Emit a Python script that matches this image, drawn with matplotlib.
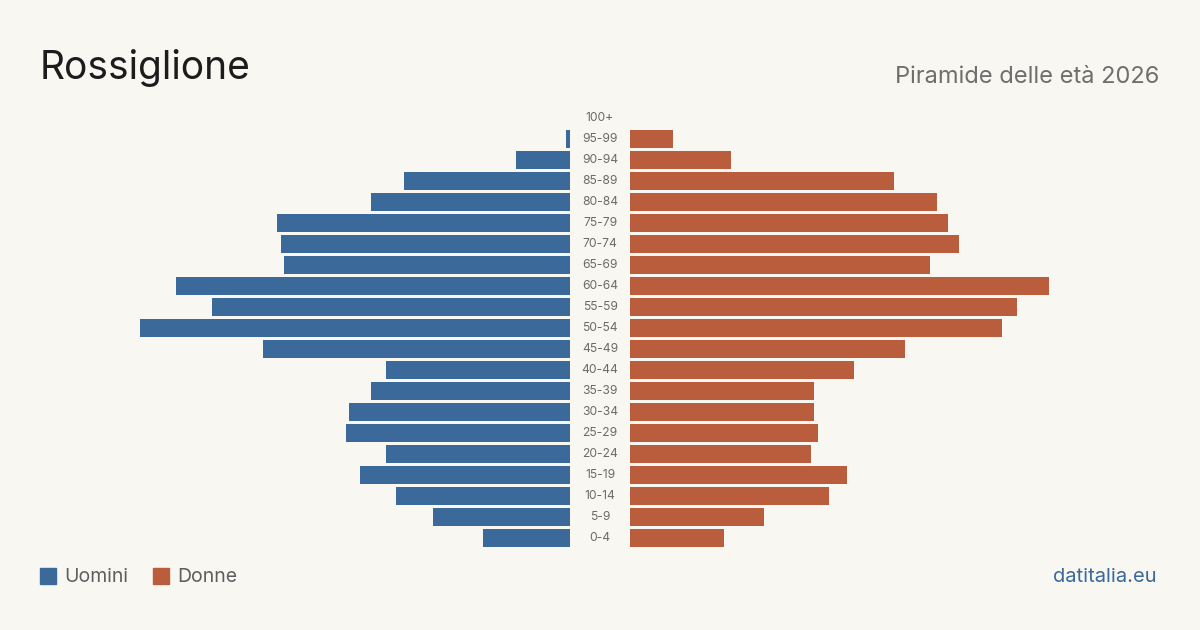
import matplotlib.pyplot as plt
from matplotlib.patches import Rectangle

# Population by age group, 2026
age_groups = ["0-4", "5-9", "10-14", "15-19", "20-24", "25-29", "30-34", "35-39",
              "40-44", "45-49", "50-54", "55-59", "60-64", "65-69", "70-74",
              "75-79", "80-84", "85-89", "90-94", "95-99", "100+"]
men = [24, 38, 48, 58, 51, 62, 61, 55, 51, 85, 119, 99, 109, 79, 80, 81, 55, 46, 15, 1, 0]
women = [26, 37, 55, 60, 50, 52, 51, 51, 62, 76, 103, 107, 116, 83, 91, 88, 85, 73, 28, 12, 0]

BG = "#f9f7f2"
BLUE = "#3b6a9a"
ORANGE = "#b95d3d"

plt.rcParams["font.family"] = ["Inter", "DejaVu Sans"]

W, H = 1200, 630
fig = plt.figure(figsize=(W / 100, H / 100), dpi=100, facecolor=BG)

# pixels per person
scale = 3.615
bottom_px, top_px = 548.5, 107.5
ax_l = fig.add_axes([40 / W, 1 - bottom_px / H, 530 / W, (bottom_px - top_px) / H])
ax_r = fig.add_axes([630 / W, 1 - bottom_px / H, 530 / W, (bottom_px - top_px) / H])

y = list(range(len(age_groups)))
ax_l.barh(y, men, height=0.81, color=BLUE)
ax_r.barh(y, women, height=0.81, color=ORANGE)

ax_l.set_xlim(530 / scale, 0)
ax_r.set_xlim(0, 530 / scale)
for ax in (ax_l, ax_r):
    ax.set_ylim(-0.5, len(age_groups) - 0.5)
    ax.set_facecolor("none")
    ax.axis("off")

for i, lab in enumerate(age_groups):
    ax_r.annotate(lab, xy=(0, i), xycoords="data", xytext=(-30, 0), textcoords="offset pixels",
                  ha="center", va="center", fontsize=8.7, color="#6b6b6b")

fig.text(40 / W, 1 - 68 / H, "Rossiglione", fontsize=28, color="#1c1c1c", va="center", ha="left")
fig.text(1159 / W, 1 - 77 / H, "Piramide delle età 2026", fontsize=17, color="#6e6e6e",
         va="center", ha="right")

# legend
fig.patches.append(Rectangle((40 / W, 1 - 584 / H), 16 / W, 16 / H, transform=fig.transFigure,
                             color=BLUE, figure=fig))
fig.text(64 / W, 1 - 577 / H, "Uomini", fontsize=14, color="#5e5e5e", va="center", ha="left")
fig.patches.append(Rectangle((153 / W, 1 - 584 / H), 16 / W, 16 / H, transform=fig.transFigure,
                             color=ORANGE, figure=fig))
fig.text(177 / W, 1 - 577 / H, "Donne", fontsize=14, color="#5e5e5e", va="center", ha="left")

fig.text(1157 / W, 1 - 577 / H, "datitalia.eu", fontsize=14.5, color=BLUE, va="center", ha="right")

fig.savefig("out.png", dpi=100, facecolor=BG)
